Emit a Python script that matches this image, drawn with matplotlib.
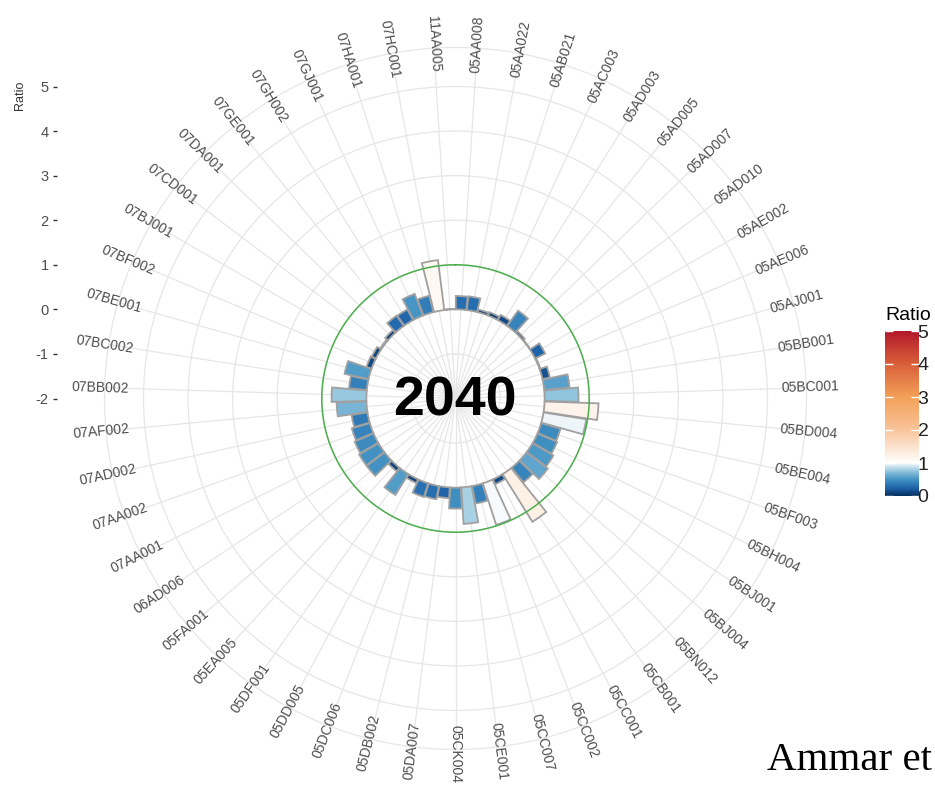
import numpy as np
import matplotlib
matplotlib.use("Agg")
import matplotlib.pyplot as plt
from matplotlib.colors import LinearSegmentedColormap, Normalize
from matplotlib.cm import ScalarMappable

plt.rcParams['font.family'] = ['Liberation Sans', 'DejaVu Sans']
plt.rcParams['axes.unicode_minus'] = False

# stations, clockwise from the top
stations = ["05AA008", "05AA022", "05AB021", "05AC003", "05AD003", "05AD005", "05AD007",
            "05AD010", "05AE002", "05AE006", "05AJ001", "05BB001", "05BC001", "05BD004",
            "05BE004", "05BF003", "05BH004", "05BJ001", "05BJ004", "05BN012", "05CB001",
            "05CC001", "05CC002", "05CC007", "05CE001", "05CK004", "05DA007", "05DB002",
            "05DC006", "05DD005", "05DF001", "05EA005", "05FA001", "06AD006", "07AA001",
            "07AA002", "07AD002", "07AF002", "07BB002", "07BC002", "07BE001", "07BF002",
            "07BJ001", "07CD001", "07DA001", "07GE001", "07GH002", "07GJ001", "07HA001",
            "07HC001", "11AA005"]
ratio = [0.30, 0.31, 0.06, 0.08, 0.13, 0.42, 0.05,
         0.01, 0.25, 0.02, 0.17, 0.57, 0.76, 1.21,
         0.97, 0.45, 0.48, 0.54, 0.60, 0.42, 1.26,
         0.12, 0.98, 0.40, 0.82, 0.47, 0.24, 0.30,
         0.32, 0.09, 0.55, 0.10, 0.50, 0.50, 0.46,
         0.42, 0.36, 0.67, 0.78, 0.40, 0.55, 0.12,
         0.10, 0.03, 0.08, 0.28, 0.27, 0.52, 0.38,
         1.13, 0.01]
year_label = "2040"
threshold = 1.0
r_breaks = [-2, -1, 0, 1, 2, 3, 4, 5]
legend_breaks = [0, 1, 2, 3, 4, 5]

# fill scale (ratio -> colour)
scale_vals = [0, 0.25, 0.5, 0.75, 0.9, 1, 2, 3, 4, 5]
scale_cols = ["#053061", "#2166ac", "#4393c3", "#92c5de", "#d1e5f0", "#ffffff",
              "#f8c49a", "#f2a058", "#d9603a", "#b2182b"]
cmap = LinearSegmentedColormap.from_list(
    "ratio", [(v / 5, c) for v, c in zip(scale_vals, scale_cols)])
norm = Normalize(0, 5)

W, H = 935, 787
fig = plt.figure(figsize=(W / 100, H / 100), dpi=100)

cx, cy, rad = 455.5, 398.5, 351.0   # panel centre / outer radius in pixels
r_min, r_max = -2, 5.875

ax = fig.add_axes([(cx - rad) / W, (H - cy - rad) / H, 2 * rad / W, 2 * rad / H],
                  projection='polar')
ax.set_theta_zero_location('N')
ax.set_theta_direction(-1)
ax.set_ylim(r_min, r_max)

n = len(stations)
theta = 2 * np.pi * (np.arange(n) + 0.5) / n
vals = np.array(ratio)

ax.bar(theta, vals, width=2 * np.pi / n * 0.95, bottom=0,
       color=cmap(norm(vals)), edgecolor='#a0a0a0', linewidth=1.3, zorder=3)

# reference circle at ratio = 1
tt = np.linspace(0, 2 * np.pi, 500)
ax.plot(tt, np.full_like(tt, threshold), color='#4cae4c', lw=1.1, zorder=4)

ax.set_xticks(theta)
ax.set_xticklabels([])
ax.set_yticks(r_breaks[1:])
ax.set_yticklabels([])
ax.tick_params(length=0)
ax.grid(True, color='#e6e6e6', lw=0.9)
ax.set_axisbelow(True)
ax.spines['polar'].set_color('#e6e6e6')
ax.spines['polar'].set_linewidth(0.9)

for th, name in zip(theta, stations):
    rot = 90 - np.degrees(th)
    if rot < -90:
        rot += 180
    ax.text(th, 5.97, name, rotation=rot, rotation_mode='anchor', ha='center',
            va='center', fontsize=10, color='#4d4d4d', clip_on=False)

ax.text(0.4985, 0.4955, year_label, transform=ax.transAxes, ha='center', va='center',
        fontsize=40, fontweight='bold', color='black', zorder=6)

# radial axis on the left
rax = fig.add_axes([57 / W, (H - cy) / H, 0.001, rad / H])
rax.set_ylim(r_min, r_max)
rax.set_yticks(r_breaks)
rax.set_xticks([])
for s in rax.spines.values():
    s.set_visible(False)
rax.patch.set_visible(False)
rax.tick_params(axis='y', length=3, width=1, color='#333333', labelcolor='#4d4d4d',
                labelsize=10.5, pad=3)
fig.text(20.5 / W, 1 - 95 / H, "Ratio", rotation=90, ha='center', va='center',
         fontsize=9, color='#333333')

# colour bar legend
cax = fig.add_axes([885 / W, (H - 496) / H, 34 / W, 165 / H])
cb = fig.colorbar(ScalarMappable(norm=norm, cmap=cmap), cax=cax, ticks=legend_breaks)
cb.outline.set_visible(False)
cax.yaxis.set_ticks_position('both')
cax.tick_params(axis='y', which='both', direction='in', color='white', length=6, width=1,
                labelleft=False, labelright=True, labelsize=14, labelcolor='#222222', pad=-1)
cax.set_title("Ratio", loc='left', fontsize=14, pad=8, color='black')

fig.text(767 / W, 1 - 770 / H, "Ammar et", family='Liberation Serif', fontsize=29.5,
         va='baseline', ha='left', color='black')

fig.savefig("out.png", dpi=100)
